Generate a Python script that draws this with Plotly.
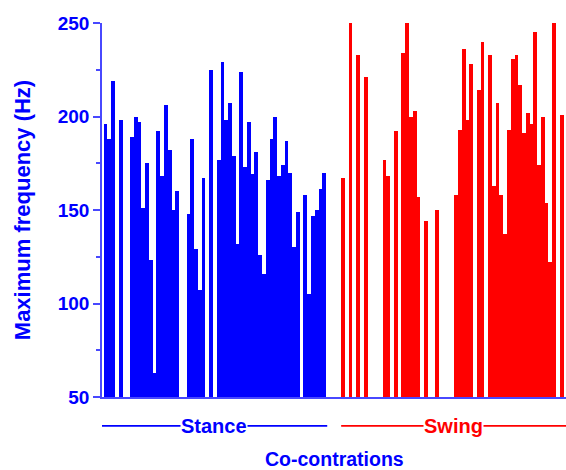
import plotly.graph_objects as go

# Maximum frequency (Hz) per co-contraction slot; None = empty slot
stance_values = [196, 188, 219, None, 198, None, None, 189, 200, 197,
                 151, 175, 123, 63, 192, 168, 206, 182, 150, 160,
                 None, None, 148, 188, 129, 107, 167, None, 225, None,
                 177, 229, 198, 207, 179, 132, 224, 173, 197, 169,
                 181, 126, 116, 166, 188, 200, 168, 174, 187, 170,
                 130, 149, None, 158, 105, 147, 150, 161, 170]
swing_gap_before = 4  # empty slots between the two phases
swing_values = [167, None, 250, None, 233, None, 221, None, None, None,
                None, 177, 168, None, 192, None, 234, 250, 200, 203,
                157, None, 144, None, None, 150, None, None, None, None,
                158, 193, 236, 198, 228, None, 214, 240, None, 233,
                163, 207, 158, 137, 193, 231, 233, 217, 191, 202,
                196, 245, 174, 200, 154, 122, 250, None, 201]

y_ticks = [50, 100, 150, 200, 250]
group_labels = ["Stance", "Swing"]
x_title = "Co-contrations"
y_title = "Maximum frequency (Hz)"

stance_x = list(range(len(stance_values)))
swing_start = len(stance_values) + swing_gap_before
swing_x = list(range(swing_start, swing_start + len(swing_values)))

BLUE = "#0000FF"
RED = "#FF0000"
AXIS = "#4848FF"
FONT = "Liberation Sans, Arial, sans-serif"

fig = go.Figure()
fig.add_trace(go.Bar(x=stance_x, y=stance_values, marker=dict(color=BLUE, line=dict(width=0)),
                     name=group_labels[0], showlegend=False))
fig.add_trace(go.Bar(x=swing_x, y=swing_values, marker=dict(color=RED, line=dict(width=0)),
                     name=group_labels[1], showlegend=False))

x_lo, x_hi = -0.95, 122.15

fig.update_layout(
    width=566, height=470,
    margin=dict(l=102, r=0, t=23, b=73),
    paper_bgcolor="white", plot_bgcolor="white",
    bargap=0,
    font=dict(family=FONT, color=BLUE),
    xaxis=dict(range=[x_lo, x_hi], showline=True, linecolor=AXIS, linewidth=1.5,
               showticklabels=False, ticks="", showgrid=False, zeroline=False, fixedrange=True),
    yaxis=dict(range=[50, 250], tickvals=y_ticks, ticks="outside", ticklen=7, tickwidth=1.5,
               tickcolor=AXIS, showline=True, linecolor=AXIS, linewidth=1.5,
               showgrid=False, zeroline=False,
               tickfont=dict(family=FONT, size=19, color=BLUE, weight="bold"),
               minor=dict(dtick=25, ticks="outside", ticklen=4, tickwidth=1.5, tickcolor=AXIS),
               title=dict(text=y_title, font=dict(family=FONT, size=22, color=BLUE, weight="bold"),
                          standoff=21)),
)

# group bracket lines with labels
line_y = -0.077  # paper coords below the plot
groups = [
    (x_lo - 0.4, stance_x[-1] + 0.8, group_labels[0], BLUE),
    (swing_x[0] - 0.5, x_hi, group_labels[1], RED),
]
for x0, x1, label, col in groups:
    fig.add_shape(type="line", xref="x", yref="paper", x0=x0, x1=x1, y0=line_y, y1=line_y,
                  line=dict(color=col, width=1.8))
    fig.add_annotation(x=(x0 + x1) / 2, y=line_y, xref="x", yref="paper",
                       text=label, showarrow=False, bgcolor="white",
                       borderpad=0, font=dict(family=FONT, size=20, color=col, weight="bold"),
                       xanchor="center", yanchor="middle")

fig.add_annotation(x=0.5, y=-0.165, xref="paper", yref="paper", xanchor="center", yanchor="middle",
                   text=x_title, showarrow=False,
                   font=dict(family=FONT, size=19.5, color=BLUE, weight="bold"))

fig.write_html("out.html", config={"displayModeBar": False},
               post_script="document.body.style.margin='0';document.body.style.overflow='hidden';")
